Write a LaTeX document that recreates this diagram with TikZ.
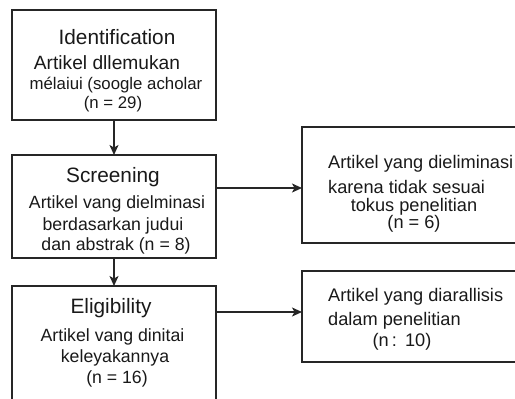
\documentclass[tikz,border=0pt]{standalone}
\usepackage{fontspec}
\setmainfont{Liberation Sans}
\usetikzlibrary{arrows.meta}
\begin{document}
\begin{tikzpicture}[x=1pt,y=-1pt,
  box/.style={draw=black!85,line width=1.4pt,inner sep=0pt,outer sep=0pt},
  ttl/.style={font=\fontsize{20.8}{24}\selectfont,text=black!90,inner sep=0pt},
  txt/.style={font=\fontsize{17.7}{21}\selectfont,text=black!90,inner sep=0pt},
  txtl/.style={txt,anchor=west},
  conn/.style={draw=black!85,line width=1.4pt,-{Stealth[length=10pt,width=9pt,inset=2.5pt]}}]
\useasboundingbox (0,0) rectangle (515,399);
% boxes
\node[box,minimum width=204pt,minimum height=110pt] (b1) at (114,65) {};
\node[box,minimum width=204pt,minimum height=103pt] (b2) at (114,206.5) {};
\node[box,minimum width=204pt,minimum height=140pt] (b3) at (114,356) {};
\node[box,minimum width=230pt,minimum height=116pt] (b4) at (417,185) {};
\node[box,minimum width=230pt,minimum height=91pt] (b5) at (417,316.5) {};
% box 1 text
\node[ttl] (t1) at (117,37) {Identification};
\node[txt,font=\fontsize{19.2}{22}\selectfont] (t1a) at (107,63) {Artikel dllemukan};
\node[txt,font=\fontsize{16.8}{20}\selectfont] (t1b) at (116,85) {mélaiui (soogle acholar};
\node[txt,font=\fontsize{16.8}{20}\selectfont] (t1c) at (113,104) {(n = 29)};
% box 2 text
\node[ttl] (t2) at (113,177) {Screening};
\node[txt] (t2a) at (117,204) {Artikel vang dielminasi};
\node[txt] (t2b) at (113,226) {berdasarkan judui};
\node[txt] (t2c) at (116,246) {dan abstrak (n = 8)};
% box 3 text
\node[ttl] (t3) at (111,308) {Eligibility};
\node[txt] (t3a) at (112.5,337) {Artikel vang dinitai};
\node[txt] (t3b) at (115,358) {keleyakannya};
\node[txt] (t3c) at (117,379) {(n = 16)};
% box 4 text
\node[txtl,font=\fontsize{18.2}{21}\selectfont] (t4a) at (328,164) {Artikel yang dieliminasi};
\node[txtl,font=\fontsize{18.2}{21}\selectfont] (t4b) at (328,187) {karena tidak sesuai};
\node[txt,font=\fontsize{18.2}{21}\selectfont] (t4c) at (414,207) {tokus penelitian};
\node[txt,font=\fontsize{18.2}{21}\selectfont] (t4d) at (414,224) {(n = 6)};
% box 5 text
\node[txtl,font=\fontsize{18.2}{21}\selectfont] (t5a) at (328,297) {Artikel yang diarallisis};
\node[txtl,font=\fontsize{18.2}{21}\selectfont] (t5b) at (328,321) {dalam penelitian};
\node[txt,font=\fontsize{18.2}{21}\selectfont] (t5c) at (402,342) {(n\,:\,\ 10)};
% connectors
\draw[conn] (b1.south -| 114,0) -- (b2.north -| 114,0);
\draw[conn] (b2.south -| 114,0) -- (b3.north -| 114,0);
\draw[conn] (b2.east |- 0,188) -- (b4.west |- 0,188);
\draw[conn] (b3.east |- 0,312) -- (b5.west |- 0,312);
\end{tikzpicture}
\end{document}
